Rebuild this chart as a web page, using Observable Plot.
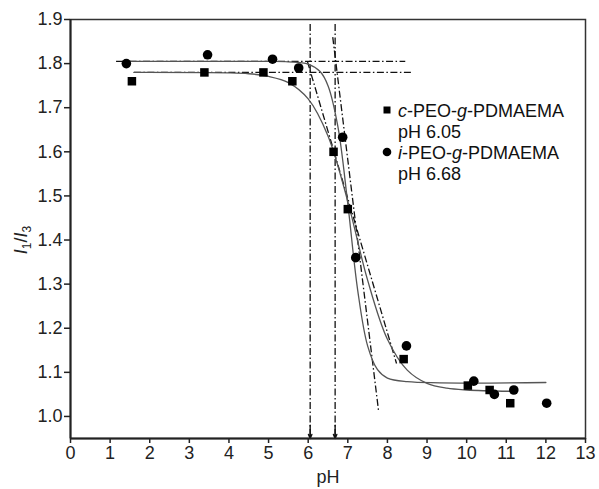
<!DOCTYPE html>
<html>
<head>
<meta charset="utf-8">
<script src="https://cdn.jsdelivr.net/npm/d3@7"></script>
<script src="https://cdn.jsdelivr.net/npm/@observablehq/plot@0.6"></script>
<style>
  html, body { margin: 0; padding: 0; background: #fff; }
  #chart { width: 599px; height: 489px; }
</style>
</head>
<body>
<div id="chart"></div>
<script>
// ---- data ----
const xTicks = [0, 1, 2, 3, 4, 5, 6, 7, 8, 9, 10, 11, 12, 13];
const yTicks = [1.0, 1.1, 1.2, 1.3, 1.4, 1.5, 1.6, 1.7, 1.8, 1.9];

// c-PEO-g-PDMAEMA (squares)
const cPH = [1.55, 3.38, 4.87, 5.6, 6.64, 7.0, 8.41, 10.03, 10.58, 11.1];
const cI  = [1.76, 1.78, 1.78, 1.76, 1.60, 1.47, 1.13, 1.07, 1.06, 1.03];
// i-PEO-g-PDMAEMA (circles)
const iPH = [1.41, 3.46, 5.1, 5.76, 6.87, 7.2, 8.48, 10.18, 10.7, 11.19, 12.02];
const iI  = [1.80, 1.82, 1.81, 1.79, 1.633, 1.36, 1.16, 1.08, 1.05, 1.06, 1.03];

// fitted curves
const cFitX = [1.6, 4.0, 4.5, 5.0, 5.5, 6.0, 6.5, 7.0, 7.5, 8.0, 8.5, 9.0, 9.5, 10.0, 11.15];
const cFitY = [1.78, 1.779, 1.777, 1.771, 1.757, 1.72, 1.636, 1.487, 1.309, 1.175, 1.105, 1.075, 1.064, 1.06, 1.057];
const iFitX = [1.4, 5.0, 5.5, 6.0, 6.3, 6.5, 6.75, 7.0, 7.25, 7.5, 7.75, 8.0, 8.5, 12.0];
const iFitY = [1.805, 1.805, 1.804, 1.799, 1.782, 1.75, 1.657, 1.482, 1.286, 1.16, 1.106, 1.087, 1.079, 1.077];

// dash-dot construction lines
const hX1 = [1.15, 1.6], hX2 = [8.45, 8.65], hY = [1.805, 1.78];
const tX1 = [5.98, 6.62], tY1 = [1.805, 1.86], tX2 = [8.23, 7.78], tY2 = [1.12, 1.01];
const vX = [6.05, 6.68], vTop = [1.89, 1.89], vBottom = [0.95, 0.95];

// legend
const legendSeries = [
  {symbol: "square", parts: [["c", true], ["-PEO-", false], ["g", true], ["-PDMAEMA", false]], note: "pH 6.05"},
  {symbol: "circle", parts: [["i", true], ["-PEO-", false], ["g", true], ["-PDMAEMA", false]], note: "pH 6.68"}
];

// ---- tables ----
const cData = cPH.map((x, i) => ({x, y: cI[i]}));
const iData = iPH.map((x, i) => ({x, y: iI[i]}));
const cFit = cFitX.map((x, i) => ({x, y: cFitY[i]}));
const iFit = iFitX.map((x, i) => ({x, y: iFitY[i]}));
const hLines = hY.map((y, i) => ({x1: hX1[i], x2: hX2[i], y}));
const tLines = tX1.map((x, i) => ({x1: x, y1: tY1[i], x2: tX2[i], y2: tY2[i]}));
const vLines = vX.map((x, i) => ({x, top: vTop[i], bottom: vBottom[i]}));

const dash = "7,2.5,1.5,2.5";
const font = "'Liberation Sans', Arial, Helvetica, sans-serif";

const plot = Plot.plot({
  width: 599,
  height: 489,
  marginLeft: 70,
  marginRight: 14,
  marginTop: 19,
  marginBottom: 51,
  style: {fontFamily: font, fontSize: "18px", color: "#222", background: "#fff"},
  x: {domain: [0, 13]},
  y: {domain: [0.95, 1.9]},
  marks: [
    Plot.frame({stroke: "#333", strokeWidth: 1.5}),
    Plot.axisY({ticks: yTicks, tickFormat: d3.format(".1f"), tickSize: 6, tickPadding: 2, label: null, stroke: "#222", strokeWidth: 1.5}),
    Plot.axisX({ticks: xTicks, tickSize: 5, tickPadding: 3, label: null, stroke: "#222", strokeWidth: 1.5}),
    Plot.link(hLines, {x1: "x1", x2: "x2", y1: "y", y2: "y", stroke: "#111", strokeWidth: 1.3, strokeDasharray: dash}),
    Plot.link(vLines, {x1: "x", x2: "x", y1: "top", y2: "bottom", stroke: "#111", strokeWidth: 1.3, strokeDasharray: dash}),
    Plot.arrow(vLines, {x1: "x", x2: "x", y1: d => d.bottom + 0.03, y2: "bottom", stroke: "#111", strokeWidth: 1.4, headLength: 9, headAngle: 45}),
    Plot.link(tLines, {x1: "x1", y1: "y1", x2: "x2", y2: "y2", stroke: "#111", strokeWidth: 1.3, strokeDasharray: dash}),
    Plot.line(cFit, {x: "x", y: "y", curve: "catmull-rom", stroke: "#555", strokeWidth: 1.3}),
    Plot.line(iFit, {x: "x", y: "y", curve: "catmull-rom", stroke: "#555", strokeWidth: 1.3}),
    Plot.dot(cData, {x: "x", y: "y", symbol: "square", r: 4.8, fill: "#000", stroke: "none"}),
    Plot.dot(iData, {x: "x", y: "y", symbol: "circle", r: 4.8, fill: "#000", stroke: "none"}),
    Plot.ruleX([0], {stroke: "#222", strokeWidth: 2}),
    Plot.ruleY([0.95], {stroke: "#222", strokeWidth: 2})
  ]
});

document.getElementById("chart").appendChild(plot);

// ---- text added to the svg: axis titles and legend ----
const svg = d3.select(plot);

// y axis title  I1/I3
const yt = svg.append("text")
  .attr("transform", "translate(27,240) rotate(-90)")
  .attr("text-anchor", "middle")
  .attr("fill", "#222")
  .style("font-family", font)
  .style("font-size", "18px");
yt.append("tspan").attr("font-style", "italic").text("I");
yt.append("tspan").attr("font-size", "12px").attr("dy", "4").text("1");
yt.append("tspan").attr("dy", "-4").text("/");
yt.append("tspan").attr("font-style", "italic").text("I");
yt.append("tspan").attr("font-size", "12px").attr("dy", "4").text("3");

// x axis title
svg.append("text")
  .attr("x", 328).attr("y", 483)
  .attr("text-anchor", "middle")
  .attr("fill", "#222")
  .style("font-family", font)
  .style("font-size", "18px")
  .text("pH");

// legend
const lg = svg.append("g")
  .attr("text-anchor", "start")
  .style("font-family", font).style("font-size", "18px").attr("fill", "#111");
legendSeries.forEach((s, i) => {
  const cy = 110 + i * 42;
  if (s.symbol === "square") {
    lg.append("rect").attr("x", 383.5).attr("y", cy - 3.5).attr("width", 7).attr("height", 7).attr("fill", "#000");
  } else {
    lg.append("circle").attr("cx", 387).attr("cy", cy).attr("r", 4.3).attr("fill", "#000");
  }
  const t = lg.append("text").attr("x", 398).attr("y", cy + 6.5).attr("text-anchor", "start");
  s.parts.forEach(([txt, it]) => t.append("tspan").attr("font-style", it ? "italic" : "normal").text(txt));
  lg.append("text").attr("x", 398).attr("y", cy + 27.5).attr("text-anchor", "start").text(s.note);
});
</script>
</body>
</html>
